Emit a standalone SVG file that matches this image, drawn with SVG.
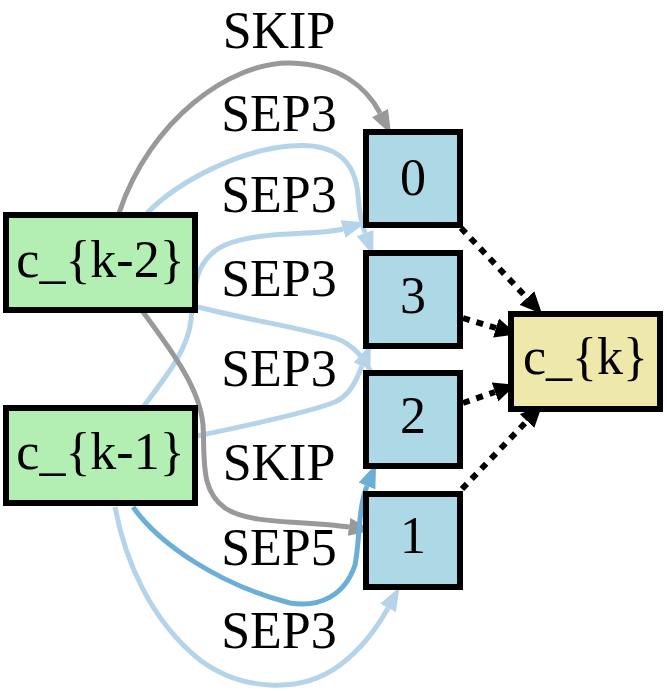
<svg xmlns="http://www.w3.org/2000/svg" width="667" height="691" viewBox="0 0 667 691">
<style>
text{font-family:"Liberation Serif","Times New Roman",serif;font-size:52px;fill:#000;text-anchor:middle}
.node rect{stroke:#000;stroke-width:6}
.in rect{fill:#b3eeb3}
.mid rect{fill:#add8e6}
.out rect{fill:#eee8aa}
.e{fill:none;stroke-width:5}
.gray{stroke:#999999}
.light{stroke:#b5d4e9}
.med{stroke:#6baed6}
.dot{fill:none;stroke:#000;stroke-width:6;stroke-dasharray:7,7}
</style>
<defs>
<marker id="ag" markerUnits="userSpaceOnUse" viewBox="0 0 24 18" markerWidth="24" markerHeight="18" refX="0" refY="9" orient="auto"><path d="M0,0 L24,9 L0,18 Z" fill="#999999"/></marker>
<marker id="al" markerUnits="userSpaceOnUse" viewBox="0 0 24 18" markerWidth="24" markerHeight="18" refX="0" refY="9" orient="auto"><path d="M0,0 L24,9 L0,18 Z" fill="#b5d4e9"/></marker>
<marker id="am" markerUnits="userSpaceOnUse" viewBox="0 0 24 18" markerWidth="24" markerHeight="18" refX="0" refY="9" orient="auto"><path d="M0,0 L24,9 L0,18 Z" fill="#6baed6"/></marker>
<marker id="ak" markerUnits="userSpaceOnUse" viewBox="0 0 22 20" markerWidth="22" markerHeight="20" refX="0" refY="10" orient="auto"><path d="M0,0 L22,10 L0,20 Z" fill="#000"/></marker>
</defs>
<g id="connectors">
<path class="e gray" d="M119,213 C150,120 230,62 290,63 C340,64 367,88 380,113" marker-end="url(#ag)"/>
<path class="e light" d="M147,213 C180,180 240,150 290,146 C335,142 355,160 358,195 C359,210 361,222 365,233" marker-end="url(#al)"/>
<path class="e light" d="M143,407 C165,378 188,350 191,320 C194,285 196,258 225,245 C260,230 318,236 343,229" marker-end="url(#al)"/>
<path class="e light" d="M198,307 C240,318 300,328 335,338 C355,345 365,360 372,374"/>
<path class="e light" d="M197,436 C250,425 310,412 335,402 C350,395 356,381 362,366" marker-end="url(#al)"/>
<path class="e gray" d="M143,312 C175,355 200,390 203,425 C205,460 200,490 225,508 C250,525 300,520 349,527" marker-end="url(#ag)"/>
<path class="e med" d="M133,507 C160,545 220,585 290,603 C320,608 345,595 355,565 C360,540 358,508 367,486" marker-end="url(#am)"/>
<path class="e light" d="M115,507 C125,560 150,620 200,660 C240,690 300,695 340,665 C360,650 377,628 388,608" marker-end="url(#al)"/>
<path class="dot" d="M461,228 L527,298" marker-end="url(#ak)"/>
<path class="dot" d="M463,318 L496,328" marker-end="url(#ak)"/>
<path class="dot" d="M463,403 L495,392" marker-end="url(#ak)"/>
<path class="dot" d="M462,489 L527,421" marker-end="url(#ak)"/>
<text x="279" y="48">SKIP</text>
<text x="279" y="131">SEP3</text>
<text x="279" y="212">SEP3</text>
<text x="279" y="296">SEP3</text>
<text x="279" y="386">SEP3</text>
<text x="279" y="480">SKIP</text>
<text x="279" y="565">SEP5</text>
<text x="279" y="648">SEP3</text>
</g>
<g id="c_k-2" class="node in"><rect x="6" y="215" width="189" height="95"/><text x="100.5" y="277">c_{k-2}</text></g>
<g id="c_k-1" class="node in"><rect x="6" y="408" width="189" height="95"/><text x="100.5" y="469">c_{k-1}</text></g>
<g id="n0" class="node mid"><rect x="366" y="132" width="94" height="93"/><text x="413" y="195">0</text></g>
<g id="n3" class="node mid"><rect x="366" y="253" width="94" height="93"/><text x="413" y="313">3</text></g>
<g id="n2" class="node mid"><rect x="366" y="373" width="94" height="93"/><text x="413" y="433">2</text></g>
<g id="n1" class="node mid"><rect x="366" y="494" width="94" height="93"/><text x="413" y="553">1</text></g>
<g id="c_k" class="node out"><rect x="511" y="314" width="149" height="95"/><text x="585.5" y="374">c_{k}</text></g>
</svg>
